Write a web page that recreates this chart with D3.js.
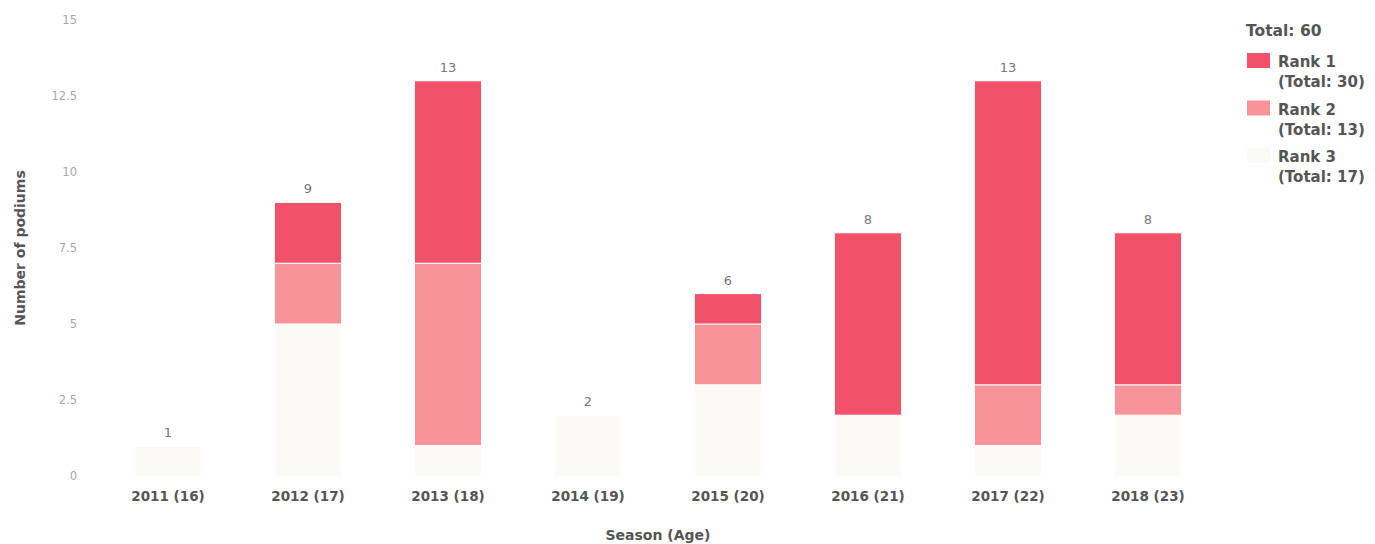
<!DOCTYPE html>
<html>
<head>
<meta charset="utf-8">
<script src="https://cdn.jsdelivr.net/npm/d3@7"></script>
<style>
  html, body { margin: 0; padding: 0; background: #fff; }
  svg { display: block; font-family: "DejaVu Sans", sans-serif; }
</style>
</head>
<body>
<svg id="chart" width="1375" height="544"></svg>
<script>
const seasons = ["2011 (16)", "2012 (17)", "2013 (18)", "2014 (19)", "2015 (20)", "2016 (21)", "2017 (22)", "2018 (23)"];
const rank1 = [0, 2, 6, 0, 1, 6, 10, 5];
const rank2 = [0, 2, 6, 0, 2, 0, 2, 1];
const rank3 = [1, 5, 1, 2, 3, 2, 1, 2];
const seriesNames = ["Rank 1", "Rank 2", "Rank 3"];
const seriesColors = ["#f1526a", "#f8939a", "#fcfaf6"];
const yTicks = [0, 2.5, 5, 7.5, 10, 12.5, 15];

const rows = seasons.map((s, i) => ({ season: s, "Rank 3": rank3[i], "Rank 2": rank2[i], "Rank 1": rank1[i] }));
const stack = d3.stack().keys(["Rank 3", "Rank 2", "Rank 1"]);
const layers = stack(rows);
const colorOf = k => seriesColors[seriesNames.indexOf(k)];

const svg = d3.select("#chart");
const x = d3.scaleBand().domain(seasons).range([98, 1218]).paddingInner(0.52).paddingOuter(0.26);
const y = d3.scaleLinear().domain([0, 15]).range([476, 20]);

// bars
svg.append("g").selectAll("g").data(layers).join("g")
  .attr("fill", d => colorOf(d.key))
  .selectAll("rect").data(d => d.filter(v => v[1] - v[0] > 0)).join("rect")
  .attr("x", d => x(d.data.season))
  .attr("width", x.bandwidth())
  .attr("y", d => y(d[1]))
  .attr("height", d => y(d[0]) - y(d[1]))
  .attr("stroke", "#fff").attr("stroke-width", 1);

// totals
const totals = seasons.map((s, i) => rank1[i] + rank2[i] + rank3[i]);
svg.append("g").selectAll("text").data(seasons).join("text")
  .attr("x", s => x(s) + x.bandwidth() / 2)
  .attr("y", (s, i) => y(totals[i]) - 9)
  .attr("text-anchor", "middle")
  .attr("font-size", 13).attr("fill", "#777")
  .text((s, i) => totals[i]);

// y axis
const yAxis = d3.axisLeft(y).tickValues(yTicks).tickSize(0).tickPadding(0).tickFormat(d => d);
const gy = svg.append("g").attr("transform", "translate(77,0)").call(yAxis);
gy.select(".domain").remove();
gy.selectAll("text").attr("font-size", 11.5).attr("fill", "#a8a8a8").attr("font-family", "\"DejaVu Sans\", sans-serif");

// x axis
const xAxis = d3.axisBottom(x).tickSize(0).tickPadding(0);
const gx = svg.append("g").attr("transform", "translate(0,491)").call(xAxis);
gx.select(".domain").remove();
gx.selectAll("text").attr("font-size", 13.5).attr("font-weight", 700).attr("fill", "#555").attr("font-family", "\"DejaVu Sans\", sans-serif");

// axis titles
svg.append("text").attr("x", 658).attr("y", 540).attr("text-anchor", "middle")
  .attr("font-size", 14).attr("font-weight", 700).attr("fill", "#555").text("Season (Age)");
svg.append("text").attr("transform", "translate(25,248) rotate(-90)").attr("text-anchor", "middle")
  .attr("font-size", 14).attr("font-weight", 700).attr("fill", "#555").text("Number of podiums");

// legend
const grand = d3.sum(totals);
const seriesTotals = [d3.sum(rank1), d3.sum(rank2), d3.sum(rank3)];
const lg = svg.append("g");
lg.append("text").attr("x", 1246).attr("y", 36).attr("font-size", 15.5).attr("font-weight", 700).attr("fill", "#555").text("Total: " + grand);
seriesNames.forEach((n, i) => {
  const top = 53 + i * 47.5;
  lg.append("rect").attr("x", 1247).attr("y", top).attr("width", 23).attr("height", 15).attr("fill", seriesColors[i]);
  lg.append("text").attr("x", 1278).attr("y", top + 14).attr("font-size", 15).attr("font-weight", 700).attr("fill", "#555").text(n);
  lg.append("text").attr("x", 1278).attr("y", top + 34).attr("font-size", 15).attr("font-weight", 700).attr("fill", "#555").text("(Total: " + seriesTotals[i] + ")");
});
</script>
</body>
</html>
